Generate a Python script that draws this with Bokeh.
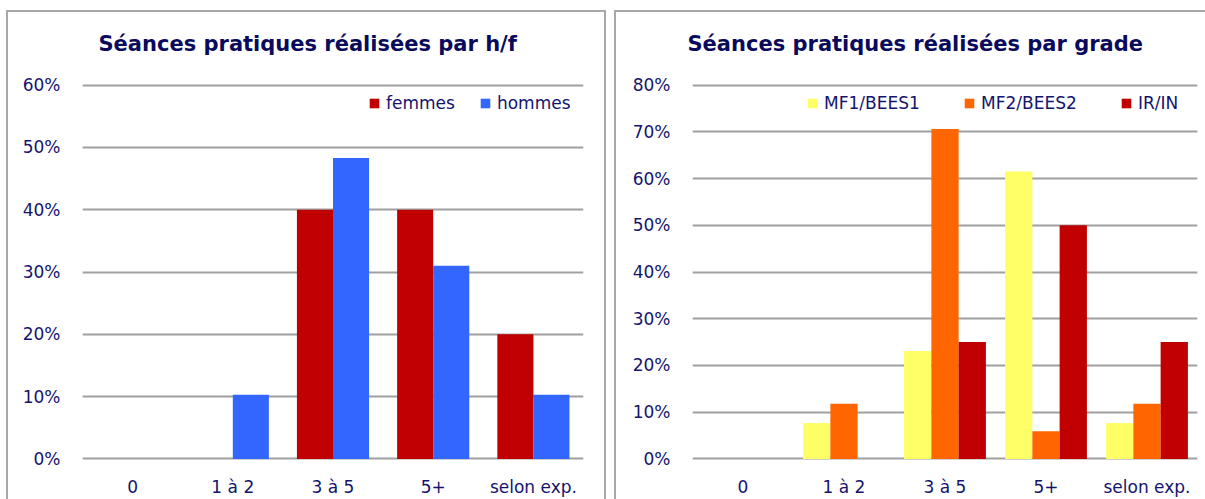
from bokeh.plotting import figure
from bokeh.models import Range1d, FixedTicker, PrintfTickFormatter, FactorRange
from bokeh.transform import dodge
from bokeh.layouts import row
from bokeh.embed import file_html
from bokeh.resources import INLINE

# ---- data ----
categories = ["0", "1 à 2", "3 à 5", "5+", "selon exp."]
femmes = [0, 0, 40.0, 40.0, 20.0]
hommes = [0, 10.3, 48.3, 31.0, 10.3]
mf1_bees1 = [0, 7.7, 23.1, 61.5, 7.7]
mf2_bees2 = [0, 11.8, 70.6, 5.9, 11.8]
ir_in = [0, 0, 25.0, 50.0, 25.0]
title_left = "Séances pratiques réalisées par h/f"
title_right = "Séances pratiques réalisées par grade"

FONT = "DejaVu Sans"
NAVY = "#14146e"
TITLE_C = "#0a0a5c"
GRID = "#a0a0a0"
BORDER = "#a8a8a8"

LINE = f"linear-gradient({BORDER}, {BORDER})"
TOP = f"{LINE} left 0 top 9px / 100% 2px no-repeat"
LEFT = f"{LINE} left 0 top 9px / 2px 100% no-repeat"
RIGHT = f"{LINE} right 0 top 9px / 2px 100% no-repeat"


def base_fig(width, ymax, mleft, mright, bg, title, toff):
    pad = 0.25 * ymax / 60
    p = figure(x_range=FactorRange(*categories, range_padding=0),
               y_range=Range1d(-pad, ymax + pad),
               width=width, height=498, output_backend="svg",
               toolbar_location=None, min_border_left=mleft,
               min_border_right=mright, min_border_top=74,
               min_border_bottom=38, title=title)
    p.title.text_font = FONT
    p.title.text_font_style = "bold"
    p.title.text_font_size = "21px"
    p.title.text_color = TITLE_C
    p.title.text_line_height = 0.6
    p.title.align = "left"
    p.title.offset = toff
    p.title.standoff = 56
    p.border_fill_color = None
    p.outline_line_color = None
    p.background_fill_color = "white"
    p.styles = {"background": bg}
    p.xgrid.grid_line_color = None
    p.ygrid.grid_line_color = GRID
    p.ygrid.grid_line_width = 2
    p.yaxis.ticker = FixedTicker(ticks=list(range(0, ymax + 1, 10)))
    p.yaxis.formatter = PrintfTickFormatter(format="%d%%")
    for ax in (p.xaxis[0], p.yaxis[0]):
        ax.axis_line_color = None
        ax.major_tick_line_color = None
        ax.minor_tick_line_color = None
        ax.major_tick_out = 0
        ax.major_tick_in = 0
        ax.minor_tick_out = 0
        ax.major_label_text_font = FONT
        ax.major_label_text_font_size = "17px"
        ax.major_label_text_color = NAVY
    p.yaxis.major_label_standoff = 22
    p.xaxis.major_label_standoff = 16
    return p


def style_legend(p, x, spacing, label_width):
    lg = p.legend[0]
    lg.orientation = "horizontal"
    lg.location = (x, 347)
    lg.border_line_color = None
    lg.background_fill_alpha = 0
    lg.glyph_width = 12
    lg.glyph_height = 12
    lg.label_height = 20
    lg.label_width = label_width
    lg.label_text_font = FONT
    lg.label_text_font_size = "17px"
    lg.label_text_color = NAVY
    lg.spacing = spacing
    lg.padding = 0
    lg.margin = 0
    lg.label_standoff = 6


# ---- left chart ----
p1 = base_fig(600, 60, 76, 23, f"{TOP}, {LEFT}, {RIGHT}, white",
              title_left, 16)
src1 = dict(cat=categories, femmes=femmes, hommes=hommes)
p1.vbar(x=dodge("cat", -0.18, range=p1.x_range), top="femmes", width=0.36,
        source=src1, color="#c00000", line_color=None, legend_label="femmes")
p1.vbar(x=dodge("cat", 0.18, range=p1.x_range), top="hommes", width=0.36,
        source=src1, color="#3366ff", line_color=None, legend_label="hommes")
style_legend(p1, 286, 24, 20)

# ---- right chart ----
p2 = base_fig(591, 80, 78, 8, f"{TOP}, {LEFT}, white", title_right, -5)
src2 = dict(cat=categories, mf1=mf1_bees1, mf2=mf2_bees2, ir=ir_in)
p2.vbar(x=dodge("cat", -0.27, range=p2.x_range), top="mf1", width=0.27,
        source=src2, color="#ffff66", line_color=None, legend_label="MF1/BEES1")
p2.vbar(x=dodge("cat", 0.0, range=p2.x_range), top="mf2", width=0.27,
        source=src2, color="#ff6600", line_color=None, legend_label="MF2/BEES2")
p2.vbar(x=dodge("cat", 0.27, range=p2.x_range), top="ir", width=0.27,
        source=src2, color="#c00000", line_color=None, legend_label="IR/IN")
style_legend(p2, 114, 28, 111)

layout = row(p1, p2, spacing=8, styles={"margin-left": "6px", "margin-top": "1px"})
open("out.html", "w").write(file_html(layout, INLINE))
